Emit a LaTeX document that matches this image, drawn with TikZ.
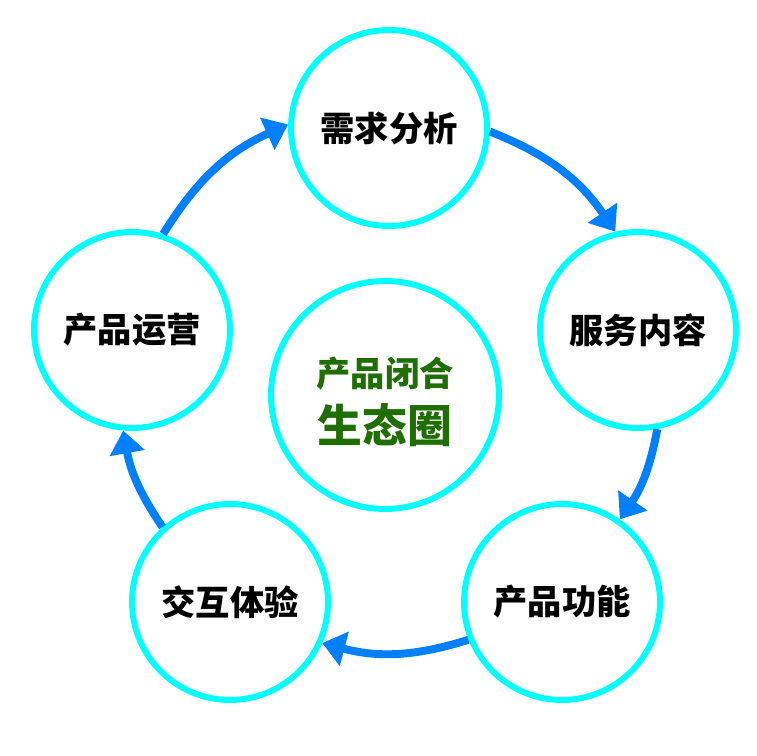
\documentclass[tikz,border=0pt]{standalone}
\usepackage{fontspec}
\newfontfamily\cjk{Noto Sans CJK SC}
\usetikzlibrary{arrows.meta}
\definecolor{ringcyan}{RGB}{0,255,255}
\definecolor{arrowblue}{RGB}{0,128,255}
\definecolor{textgreen}{RGB}{30,110,0}
\tikzset{
  ring/.style={circle,draw=ringcyan,line width=3.4pt,fill=white,inner sep=0pt,minimum size=3.92cm,
    font=\cjk\bfseries\fontsize{19.5pt}{22pt}\selectfont},
  bigring/.style={circle,draw=ringcyan,line width=3.4pt,fill=white,inner sep=0pt,minimum size=4.56cm},
  flow/.style={draw=arrowblue,line width=4.5pt,-{Triangle[width=19.5pt,length=13pt]}},
  greenA/.style={text=textgreen,font=\cjk\bfseries\fontsize{19.5pt}{22pt}\selectfont,inner sep=0pt},
  greenB/.style={text=textgreen,font=\cjk\bfseries\fontsize{25.5pt}{28pt}\selectfont,inner sep=0pt}
}
\begin{document}
\begin{tikzpicture}[x=0.02cm,y=-0.02cm]
\useasboundingbox (0,0) rectangle (756,756);
\node[ring] (T)  at (389,128) {需求分析};
\node[ring] (R)  at (638,330) {服务内容};
\node[ring] (BR) at (562,602) {产品功能};
\node[ring] (BL) at (230,602) {交互体验};
\node[ring] (L)  at (132,330) {产品运营};
\node[bigring] (C) at (385,395) {};
\node[greenA] (c1) at (385,374) {产品闭合};
\node[greenB] (c2) at (385,425) {生态圈};
\draw[flow] (L.72) to[bend left=17] (T.178);
\draw[flow] (T.-2) to[bend left=17] (R.103);
\draw[flow] (R.-79) to[bend left=12] (BR.55);
\draw[flow] (BR.-158) to[bend left=16] (BL.-24);
\draw[flow] (BL.132) to[bend left=12] (L.-95);
\end{tikzpicture}
\end{document}
